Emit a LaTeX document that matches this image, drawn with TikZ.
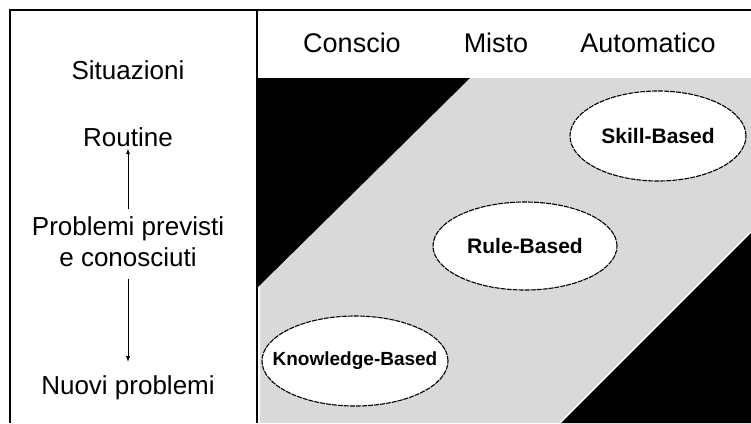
\documentclass[tikz,border=0pt]{standalone}
\usepackage{fontspec}
\setmainfont{Liberation Sans}
\usetikzlibrary{shapes.geometric}
\definecolor{bandgray}{RGB}{217,217,217}
\tikzset{
  sidetext/.style={inner sep=2pt, font=\fontsize{26}{31}\selectfont},
  colhead/.style={inner sep=0pt, font=\fontsize{27}{32}\selectfont},
  modebox/.style={ellipse, draw, fill=white, line width=1.1pt, dash pattern=on 5pt off 1pt,
    minimum width=182pt, minimum height=90pt, inner xsep=-40pt, inner ysep=-10pt,
    font=\bfseries\fontsize{21}{25}\selectfont},
}
\begin{document}
\begin{tikzpicture}[x=1pt,y=-1pt,>=latex]
\useasboundingbox (0,0) rectangle (751,423);
%bands
\fill[bandgray] (259.5,78) rectangle (751,423);
\fill[black] (258,78) -- (470,78) -- (258,287) -- cycle;
\fill[black] (751,232) -- (751,423) -- (560,423) -- cycle;
\draw[white, line width=1.2pt] (751,232) -- (560,423);
%frame
\draw[line width=1.5pt] (10,423) -- (10,10) -- (751,10);
\draw[line width=1.5pt] (257,10) -- (257,423);
%header
\node[colhead] (conscio) at (352,43) {Conscio};
\node[colhead] (misto) at (496,43) {Misto};
\node[colhead] (automatico) at (648,43) {Automatico};
%left panel
\node[sidetext] (situazioni) at (128,70) {Situazioni};
\node[sidetext] (routine) at (128,137) {Routine};
\node[sidetext, align=center] (previsti) at (128,242) {Problemi previsti\\e conosciuti};
\node[sidetext] (nuovi) at (128,388) {Nuovi problemi};
\draw[->, line width=0.9pt, shorten <=6pt] (previsti.north) -- (routine.south);
\draw[->, line width=0.9pt, shorten <=10pt, shorten >=12pt] (previsti.south) -- (nuovi.north);
%ellipses
\node[modebox, minimum width=176pt] (skill) at (658,136) {Skill-Based};
\node[modebox, minimum width=184pt, minimum height=88pt] (rule) at (525,246) {Rule-Based};
\node[modebox, minimum width=186pt, font=\bfseries\fontsize{19}{23}\selectfont] (knowledge) at (355,361) {Knowledge-Based};
\end{tikzpicture}
\end{document}
